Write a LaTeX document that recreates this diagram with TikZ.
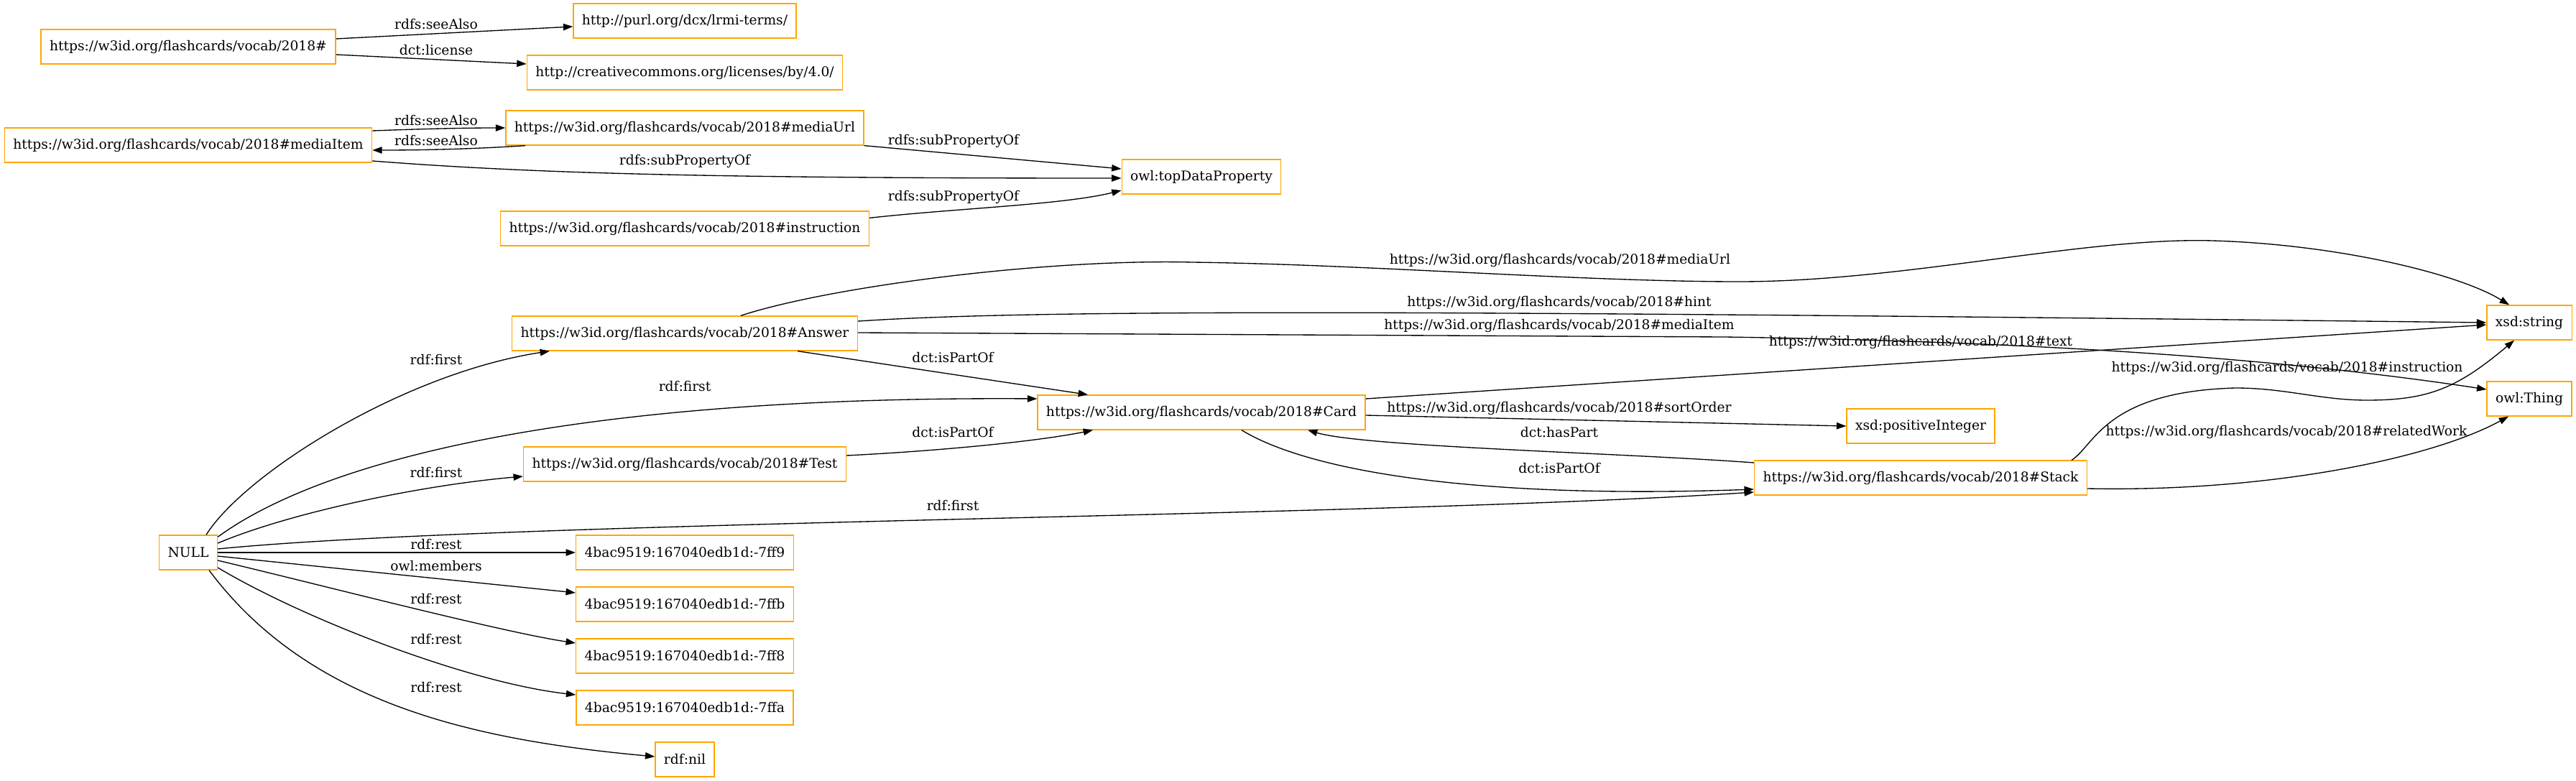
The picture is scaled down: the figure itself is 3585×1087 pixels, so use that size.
\documentclass[tikz,border=0pt]{standalone}
\usepackage{fontspec}
\setmainfont{DejaVu Serif}
\usetikzlibrary{arrows.meta,calc}
\definecolor{boxC}{HTML}{FFA500}
\definecolor{lineC}{HTML}{000000}

\begin{document}
\begin{tikzpicture}[
  x=0.75pt, y=-0.75pt,
  >={Triangle[length=10pt,width=7pt]},
  every node/.style={font=\fontsize{14}{16}\selectfont, text=black},
  term/.style={draw=boxC, line width=1pt, minimum height=36pt,
               minimum width=54pt, inner xsep=9pt, inner ysep=0pt},
  lbl/.style={inner sep=0pt},
  link/.style={->, line width=1pt, draw=lineC},
]
\useasboundingbox (0,0) rectangle (3585,1087);

% ── Ontology header ──
\node[term] (vocab) at (262,65) {https://w3id.org/flashcards/vocab/2018\#};
\node[term] (purl) at (953,29) {http://purl.org/dcx/lrmi-terms/};
\node[term] (licence) at (953,101) {http://creativecommons.org/licenses/by/4.0/};

% ── Data properties ──
\node[term] (mediaItem) at (262,202) {https://w3id.org/flashcards/vocab/2018\#mediaItem};
\node[term] (mediaUrl) at (953,178) {https://w3id.org/flashcards/vocab/2018\#mediaUrl};
\node[term] (instruction) at (953,318) {https://w3id.org/flashcards/vocab/2018\#instruction};
\node[term] (topData) at (1672,246) {owl:topDataProperty};

% ── Classes ──
\node[term] (answer) at (953,464) {https://w3id.org/flashcards/vocab/2018\#Answer};
\node[term] (test) at (953,646) {https://w3id.org/flashcards/vocab/2018\#Test};
\node[term] (card) at (1672,574) {https://w3id.org/flashcards/vocab/2018\#Card};
\node[term] (posInt) at (2673,593) {xsd:positiveInteger};
\node[term] (stack) at (2673,665) {https://w3id.org/flashcards/vocab/2018\#Stack};
\node[term] (xsdString) at (3520,449) {xsd:string};
\node[term] (owlThing) at (3520,555) {owl:Thing};

% ── List nodes ──
\node[term] (nullnode) at (262,769) {NULL};
\node[term] (b7ff9) at (953,769) {4bac9519:167040edb1d:-7ff9};
\node[term] (b7ffb) at (953,841) {4bac9519:167040edb1d:-7ffb};
\node[term] (b7ff8) at (953,913) {4bac9519:167040edb1d:-7ff8};
\node[term] (b7ffa) at (953,985) {4bac9519:167040edb1d:-7ffa};
\node[term] (rdfnil) at (953,1057) {rdf:nil};

% ── Header edges ──
\draw[link] ($(vocab.east)+(0,-11)$) -- ($(purl.west)+(0,8)$);
\node[lbl] (l-see1) at (607,34) {rdfs:seeAlso};
\draw[link] ($(vocab.east)+(0,11)$) -- ($(licence.west)+(0,-12)$);
\node[lbl] (l-lic) at (607,70) {dct:license};

% ── Property edges ──
\draw[link] ($(mediaItem.east)+(0,-20)$) .. controls (600,179) and (650,178) .. (mediaUrl.west);
\node[lbl] (l-see2) at (607,168) {rdfs:seeAlso};
\draw[link] ($(mediaUrl.south west)+(28,0)$) .. controls (650,208) and (580,209) .. ($(mediaItem.east)+(0,7)$);
\node[lbl] (l-see3) at (607,196) {rdfs:seeAlso};
\draw[link] ($(mediaItem.east)+(0,22)$) .. controls (750,242) and (1000,248) .. ($(topData.west)+(0,2)$);
\node[lbl] (l-sub1) at (953,224) {rdfs:subPropertyOf};
\draw[link] (mediaUrl.south east) -- ($(topData.west)+(0,-11)$);
\node[lbl] (l-sub2) at (1327,196) {rdfs:subPropertyOf};
\draw[link] ($(instruction.north east)+(0,10)$) .. controls (1330,290) and (1480,285) .. ($(topData.west)+(0,19)$);
\node[lbl] (l-sub3) at (1327,274) {rdfs:subPropertyOf};

% ── NULL fan-out ──
\draw[link] ($(nullnode.north)+(25,0)$) .. controls (340,660) and (560,520) .. ($(answer.south west)+(53,0)$);
\node[lbl] (l-first1) at (607,501) {rdf:first};
\draw[link] ($(nullnode.north east)+(0,3)$) .. controls (450,640) and (800,551) .. ($(card.west)+(0,-19)$);
\node[lbl] (l-first2) at (953,538) {rdf:first};
\draw[link] ($(nullnode.east)+(0,-13)$) .. controls (400,715) and (580,676) .. ($(test.west)+(0,17)$);
\node[lbl] (l-first3) at (607,658) {rdf:first};
\draw[link] ($(nullnode.east)+(0,-5)$) .. controls (700,725) and (1900,720) .. ($(stack.west)+(0,20)$);
\node[lbl] (l-first4) at (1326,704) {rdf:first};
\draw[link] (nullnode.east) -- (b7ff9.west);
\node[lbl] (l-rest1) at (607,758) {rdf:rest};
\draw[link] ($(nullnode.east)+(0,5)$) -- ($(b7ffb.west)+(0,-16)$);
\node[lbl] (l-mem) at (607,788) {owl:members};
\draw[link] ($(nullnode.east)+(0,11)$) .. controls (450,815) and (700,880) .. ($(b7ff8.west)+(0,-18)$);
\node[lbl] (l-rest2) at (607,834) {rdf:rest};
\draw[link] ($(nullnode.east)+(0,21)$) .. controls (420,860) and (650,950) .. ($(b7ffa.west)+(0,-18)$);
\node[lbl] (l-rest3) at (607,890) {rdf:rest};
\draw[link] ($(nullnode.south)+(29,0)$) .. controls (430,980) and (660,1030) .. ($(rdfnil.west)+(0,-4)$);
\node[lbl] (l-rest4) at (607,957) {rdf:rest};

% ── Answer / Test / Card ──
\draw[link] ($(answer.north)+(78,0)$) .. controls (1150,400) and (1450,360) .. (1659,365)
  .. controls (1900,368) and (2200,392) .. (2420,392)
  .. controls (2650,392) and (2900,330) .. (3079,335)
  .. controls (3250,340) and (3420,380) .. ($(xsdString.north)+(-28,0)$);
\node[lbl] (l-url) at (2171,362) {https://w3id.org/flashcards/vocab/2018\#mediaUrl};
\draw[link] ($(answer.east)+(0,-17)$) .. controls (1450,430) and (2000,432) .. (xsdString.west);
\node[lbl] (l-hint) at (2170,421) {https://w3id.org/flashcards/vocab/2018\#hint};
\draw[link] ($(answer.east)+(0,-1)$) -- (2400,469)
  .. controls (2800,475) and (3150,495) .. ($(owlThing.west)+(0,-13)$);
\node[lbl] (l-item) at (2170,453) {https://w3id.org/flashcards/vocab/2018\#mediaItem};
\draw[link] ($(answer.south)+(157,0)$) -- ($(card.north)+(-158,0)$);
\node[lbl] (l-part1) at (1326,498) {dct:isPartOf};
\draw[link] ($(test.east)+(0,-12)$) .. controls (1300,628) and (1440,615) .. ($(card.south)+(-151,0)$);
\node[lbl] (l-part2) at (1326,602) {dct:isPartOf};
\draw[link] ($(card.east)+(0,-19)$) -- ($(xsdString.west)+(0,3)$);
\node[lbl] (l-text) at (2673,476) {https://w3id.org/flashcards/vocab/2018\#text};
\draw[link] ($(card.east)+(0,4)$) -- (posInt.west);
\node[lbl] (l-sort) at (2170,568) {https://w3id.org/flashcards/vocab/2018\#sortOrder};

% ── Card <-> Stack ──
\draw[link] ($(stack.west)+(0,-21)$) .. controls (2250,630) and (1900,622) .. ($(card.south)+(148,0)$);
\node[lbl] (l-has) at (2170,602) {dct:hasPart};
\draw[link] ($(card.south)+(56,0)$) .. controls (1820,655) and (2050,695) .. ($(stack.west)+(0,16)$);
\node[lbl] (l-part3) at (2170,652) {dct:isPartOf};

% ── Stack to datatypes ──
\draw[link] ($(stack.north east)+(-22,0)$) .. controls (2915,620) and (2930,545) .. (3111,540)
  .. controls (3180,540) and (3230,557) .. (3294,557)
  .. controls (3380,557) and (3420,540) .. ($(xsdString.south)+(-21,0)$);
\node[lbl] (l-instr) at (3183,512) {https://w3id.org/flashcards/vocab/2018\#instruction};
\draw[link] ($(stack.east)+(0,15)$) .. controls (3150,685) and (3380,640) .. ($(owlThing.south)+(-29,0)$);
\node[lbl] (l-rel) at (3182,601) {https://w3id.org/flashcards/vocab/2018\#relatedWork};

\end{tikzpicture}
\end{document}
